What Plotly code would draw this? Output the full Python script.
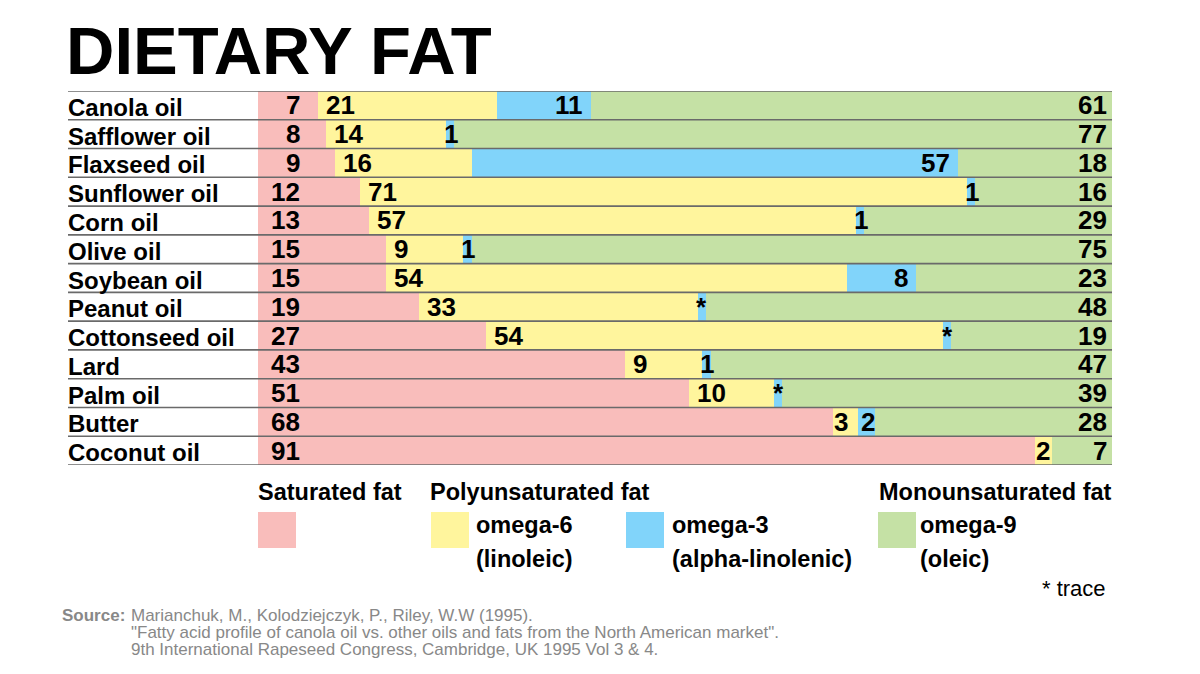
import plotly.graph_objects as go

# ---------------- data ----------------
FOODS = ["Canola oil", "Safflower oil", "Flaxseed oil", "Sunflower oil", "Corn oil",
         "Olive oil", "Soybean oil", "Peanut oil", "Cottonseed oil", "Lard",
         "Palm oil", "Butter", "Coconut oil"]
SATURATED = [7, 8, 9, 12, 13, 15, 15, 19, 27, 43, 51, 68, 91]
OMEGA6 = [21, 14, 16, 71, 57, 9, 54, 33, 54, 9, 10, 3, 2]
OMEGA3 = [11, 1, 57, 1, 1, 1, 8, None, None, 1, None, 2, 0]   # None = trace
OMEGA9 = [61, 77, 18, 16, 29, 75, 23, 48, 19, 47, 39, 28, 7]
TRACE_WIDTH = 1   # drawn width for a "trace" amount

SERIES_NAMES = ["Saturated fat", "omega-6 (linoleic)", "omega-3 (alpha-linolenic)", "omega-9 (oleic)"]
COLORS = ["#F9BDBB", "#FFF59D", "#81D4FA", "#C5E1A5"]

FONT = "Liberation Sans, Arial, sans-serif"

# ---------------- geometry helpers (reference pixel space) ----------------
PAGE_OFF = 8          # default body margin of the html page
W, H = 1200 - PAGE_OFF, 674 - PAGE_OFF
L, R, T, B = 258, 1112, 91, 465


def px(x):
    return (x - L) / (R - L)


def py(y):
    return (B - y) / (B - T)


# displayed widths (trace -> TRACE_WIDTH), normalised to 100 per row
raw = []
for s, o6, o3, o9 in zip(SATURATED, OMEGA6, OMEGA3, OMEGA9):
    raw.append([s, o6, TRACE_WIDTH if o3 is None else o3, o9])
scaled = []
for row in raw:
    tot = sum(row)
    scaled.append([v * 100.0 / tot for v in row])

fig = go.Figure()
for k in range(4):
    fig.add_trace(go.Bar(
        y=FOODS,
        x=[row[k] for row in scaled],
        orientation="h",
        name=SERIES_NAMES[k],
        marker=dict(color=COLORS[k], line=dict(width=0)),
        showlegend=False,
        hoverinfo="skip",
    ))

annotations = []
shapes = []

num_font = dict(family=FONT, size=26, color="#000000", weight="bold")
lab_font = dict(family=FONT, size=24, color="#000000", weight="bold")

for i, food in enumerate(FOODS):
    w = scaled[i]
    starts = [0, w[0], w[0] + w[1], w[0] + w[1] + w[2]]
    # row label
    annotations.append(dict(xref="paper", yref="y", x=px(66), y=food, text=food,
                            xanchor="left", yanchor="middle", showarrow=False, yshift=-2,
                            font=lab_font))
    # saturated
    annotations.append(dict(xref="x", yref="y", x=0, y=food, text=str(SATURATED[i]),
                            xanchor="right", yanchor="middle", showarrow=False,
                            xshift=44, font=num_font))
    # omega-6
    annotations.append(dict(xref="x", yref="y", x=starts[1], y=food, text=str(OMEGA6[i]),
                            xanchor="left", yanchor="middle", showarrow=False,
                            xshift=6 if OMEGA6[i] > 3 else -1, font=num_font))
    # omega-3
    o3 = OMEGA3[i]
    if o3 is None:
        annotations.append(dict(xref="x", yref="y", x=starts[2] + w[2] / 2, y=food, text="*",
                                xanchor="center", yanchor="middle", showarrow=False,
                                font=num_font))
    elif o3 > 0:
        if o3 <= 3:
            annotations.append(dict(xref="x", yref="y", x=starts[2] + w[2] / 2, y=food,
                                    text=str(o3), xanchor="center", yanchor="middle",
                                    showarrow=False, xshift=1, font=num_font))
        else:
            annotations.append(dict(xref="x", yref="y", x=starts[3], y=food, text=str(o3),
                                    xanchor="right", yanchor="middle", showarrow=False,
                                    xshift=-6, font=num_font))
    # omega-9
    annotations.append(dict(xref="x", yref="y", x=100, y=food, text=str(OMEGA9[i]),
                            xanchor="right", yanchor="middle", showarrow=False,
                            xshift=-3, font=num_font))

# row divider lines
for j in range(len(FOODS) + 1):
    shapes.append(dict(type="line", xref="paper", yref="y", x0=px(68), x1=1,
                       y0=j - 0.5, y1=j - 0.5, line=dict(color="#6a6a6a", width=1.6),
                       layer="above"))

# title
annotations.append(dict(xref="paper", yref="paper", x=px(64), y=py(50), text="DIETARY FAT",
                        xanchor="left", yanchor="middle", showarrow=False,
                        font=dict(family=FONT, size=67, color="#000000", weight="bold")))

# legend
leg_font = dict(family=FONT, size=23.5, color="#000000", weight="bold")
for txt, x in [("Saturated fat", 256), ("Polyunsaturated fat", 428), ("Monounsaturated fat", 877)]:
    annotations.append(dict(xref="paper", yref="paper", x=px(x), y=py(492), text=txt,
                            xanchor="left", yanchor="middle", showarrow=False, font=leg_font))

squares = [(258, COLORS[0]), (431, COLORS[1]), (626, COLORS[2]), (878, COLORS[3])]
for x, c in squares:
    shapes.append(dict(type="rect", xref="paper", yref="paper", x0=px(x), x1=px(x + 38),
                       y0=py(548), y1=py(512), fillcolor=c, line=dict(width=0), layer="above"))

leg_items = [(474, "omega-6", "(linoleic)"), (670, "omega-3", "(alpha-linolenic)"),
             (918, "omega-9", "(oleic)")]
for x, a, b in leg_items:
    annotations.append(dict(xref="paper", yref="paper", x=px(x), y=py(525), text=a,
                            xanchor="left", yanchor="middle", showarrow=False, font=leg_font))
    annotations.append(dict(xref="paper", yref="paper", x=px(x), y=py(559), text=b,
                            xanchor="left", yanchor="middle", showarrow=False, font=leg_font))

annotations.append(dict(xref="paper", yref="paper", x=px(1108), y=py(588), text="* trace",
                        xanchor="right", yanchor="middle", showarrow=False,
                        font=dict(family=FONT, size=22, color="#000000")))

# source
src_font = dict(family=FONT, size=17, color="#888888")
annotations.append(dict(xref="paper", yref="paper", x=px(60), y=py(615), text="<b>Source:</b>",
                        xanchor="left", yanchor="middle", showarrow=False, font=src_font))
src_lines = ["Marianchuk, M., Kolodziejczyk, P., Riley, W.W (1995).",
             "\"Fatty acid profile of canola oil vs. other oils and fats from the North American market\".",
             "9th International Rapeseed Congress, Cambridge, UK 1995 Vol 3 & 4."]
for k, line in enumerate(src_lines):
    annotations.append(dict(xref="paper", yref="paper", x=px(129), y=py(615 + 17 * k), text=line,
                            xanchor="left", yanchor="middle", showarrow=False, font=src_font))

fig.update_layout(
    width=W, height=H,
    margin=dict(l=L - PAGE_OFF, r=(W + PAGE_OFF) - R, t=T - PAGE_OFF, b=(H + PAGE_OFF) - B, pad=0),
    barmode="stack", bargap=0,
    paper_bgcolor="white", plot_bgcolor="white",
    xaxis=dict(range=[0, 100], visible=False, fixedrange=True),
    yaxis=dict(type="category", categoryorder="array", categoryarray=FOODS,
               range=[len(FOODS) - 0.5, -0.5], visible=False, fixedrange=True),
    annotations=annotations,
    shapes=shapes,
    showlegend=False,
)

fig.write_html("out.html", config={"displayModeBar": False})
